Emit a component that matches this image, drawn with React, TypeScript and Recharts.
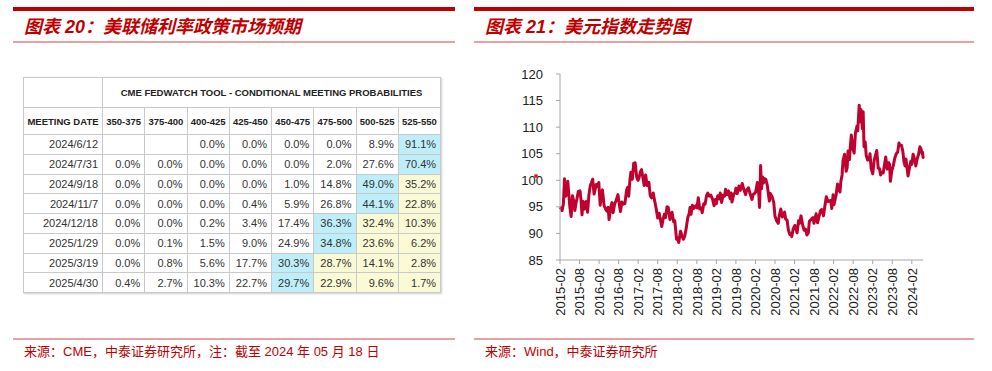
import React from "react";
import { LineChart, Line, XAxis, YAxis } from "recharts";

// CME FedWatch table
const rateBuckets = ["350-375", "375-400", "400-425", "425-450", "450-475", "475-500", "500-525", "525-550"];
const meetingDates = ["2024/6/12", "2024/7/31", "2024/9/18", "2024/11/7", "2024/12/18", "2025/1/29", "2025/3/19", "2025/4/30"];
const probabilities: (number | null)[][] = [
  [null, null, 0.0, 0.0, 0.0, 0.0, 8.9, 91.1],
  [0.0, 0.0, 0.0, 0.0, 0.0, 2.0, 27.6, 70.4],
  [0.0, 0.0, 0.0, 0.0, 1.0, 14.8, 49.0, 35.2],
  [0.0, 0.0, 0.0, 0.4, 5.9, 26.8, 44.1, 22.8],
  [0.0, 0.0, 0.2, 3.4, 17.4, 36.3, 32.4, 10.3],
  [0.0, 0.1, 1.5, 9.0, 24.9, 34.8, 23.6, 6.2],
  [0.0, 0.8, 5.6, 17.7, 30.3, 28.7, 14.1, 2.8],
  [0.4, 2.7, 10.3, 22.7, 29.7, 22.9, 9.6, 1.7],
];
// column of the most likely bucket in each row
const topBucket = [7, 7, 6, 6, 5, 5, 4, 4];

// US dollar index, [MM-DD, value] by year
const y2015: [string, number][] = [
  ["02-02", 94.5], ["02-10", 94.8], ["02-20", 94.3], ["03-02", 95.5], ["03-13", 100.3], ["03-18", 97.3],
  ["03-25", 97.0], ["04-01", 98.5], ["04-13", 99.8], ["04-22", 97.5], ["05-01", 95.1], ["05-14", 93.2],
  ["05-26", 97.1], ["06-05", 96.3], ["06-18", 94.3], ["07-01", 96.0], ["07-08", 96.6], ["07-20", 97.9],
  ["08-05", 98.0], ["08-14", 96.5], ["08-24", 93.5], ["09-03", 96.0], ["09-18", 94.6], ["10-01", 96.0],
  ["10-15", 94.0], ["10-28", 97.3], ["11-10", 99.0], ["11-20", 99.5], ["12-02", 100.2], ["12-15", 97.4],
  ["12-22", 98.0],
];
const y2016: [string, number][] = [
  ["01-05", 99.2], ["01-20", 98.8], ["01-29", 99.6], ["02-11", 95.3], ["02-25", 97.5], ["03-02", 98.2],
  ["03-17", 95.3], ["03-31", 94.6], ["04-12", 94.2], ["04-25", 94.9], ["05-03", 92.6], ["05-16", 94.6],
  ["05-30", 95.8], ["06-10", 93.9], ["06-24", 95.5], ["07-08", 96.2], ["07-25", 97.3], ["08-05", 95.8],
  ["08-18", 94.1], ["09-01", 95.9], ["09-15", 95.5], ["09-29", 95.6], ["10-14", 98.1], ["10-25", 98.7],
  ["11-04", 97.0], ["11-15", 100.0], ["11-24", 101.5], ["12-07", 100.2], ["12-20", 103.2], ["12-28", 103.0],
];
const y2017: [string, number][] = [
  ["01-03", 103.3], ["01-18", 100.5], ["01-30", 100.0], ["02-08", 100.4], ["02-22", 101.6], ["03-02", 102.0],
  ["03-15", 100.5], ["03-27", 99.0], ["04-10", 101.0], ["04-24", 99.0], ["05-10", 99.6], ["05-22", 97.1],
  ["06-05", 96.7], ["06-20", 97.6], ["07-03", 96.1], ["07-17", 94.7], ["07-31", 92.9], ["08-15", 93.8],
  ["08-29", 92.3], ["09-08", 91.3], ["09-20", 92.6], ["10-02", 93.6], ["10-13", 93.0], ["10-27", 95.0],
  ["11-08", 94.9], ["11-24", 92.6], ["12-06", 93.6], ["12-13", 94.0], ["12-28", 92.2],
];
const y2018: [string, number][] = [
  ["01-08", 92.4], ["01-25", 88.9], ["02-01", 89.2], ["02-15", 88.3], ["03-01", 90.4], ["03-14", 89.6],
  ["03-27", 88.9], ["04-10", 89.5], ["04-24", 91.0], ["05-08", 93.0], ["05-22", 93.8], ["05-29", 94.9],
  ["06-08", 93.6], ["06-20", 95.3], ["07-03", 94.7], ["07-19", 95.2], ["08-02", 94.8], ["08-15", 96.7],
  ["08-28", 94.6], ["09-12", 94.8], ["09-21", 93.9], ["10-05", 95.6], ["10-17", 95.5], ["10-31", 97.1],
  ["11-12", 97.6], ["11-26", 97.0], ["12-10", 97.2], ["12-27", 96.4],
];
const y2019: [string, number][] = [
  ["01-10", 95.2], ["01-22", 96.4], ["02-01", 95.6], ["02-14", 97.1], ["03-01", 96.5], ["03-07", 97.6],
  ["03-20", 95.8], ["04-02", 97.2], ["04-17", 97.0], ["04-26", 98.3], ["05-10", 97.3], ["05-23", 98.0],
  ["06-07", 96.6], ["06-18", 97.6], ["06-25", 95.9], ["07-10", 97.3], ["07-25", 97.7], ["08-01", 98.5],
  ["08-13", 97.5], ["08-30", 98.9], ["09-12", 98.1], ["09-30", 99.4], ["10-14", 98.3], ["10-30", 97.3],
  ["11-12", 98.2], ["11-27", 98.6], ["12-10", 97.6], ["12-30", 96.4],
];
const y2020: [string, number][] = [
  ["01-08", 97.3], ["01-22", 97.5], ["02-03", 97.8], ["02-19", 99.6], ["03-02", 97.4], ["03-09", 94.9],
  ["03-19", 102.8], ["03-27", 98.4], ["04-06", 100.6], ["04-15", 99.5], ["04-24", 100.3], ["05-06", 100.2],
  ["05-20", 99.1], ["06-09", 96.1], ["06-19", 97.5], ["07-06", 96.8], ["07-20", 95.8], ["07-31", 93.3],
  ["08-18", 92.3], ["09-01", 91.9], ["09-10", 93.3], ["09-25", 94.6], ["10-09", 93.1], ["10-30", 94.0],
  ["11-09", 92.7], ["11-23", 92.5], ["12-04", 90.7], ["12-17", 89.8], ["12-31", 89.9],
];
const y2021: [string, number][] = [
  ["01-06", 89.4], ["01-18", 90.8], ["02-04", 91.5], ["02-25", 90.1], ["03-08", 92.4], ["03-18", 91.9],
  ["03-31", 93.3], ["04-15", 91.7], ["04-29", 90.6], ["05-12", 90.8], ["05-25", 89.7], ["06-08", 90.1],
  ["06-18", 92.3], ["07-07", 92.7], ["07-21", 93.0], ["07-30", 91.9], ["08-12", 93.0], ["08-20", 93.7],
  ["09-03", 92.0], ["09-17", 93.2], ["09-30", 94.3], ["10-12", 94.5], ["10-28", 93.3], ["11-11", 95.2],
  ["11-24", 96.9], ["12-08", 96.0], ["12-22", 96.1],
];
const y2022: [string, number][] = [
  ["01-05", 96.2], ["01-14", 94.7], ["01-27", 97.3], ["02-04", 95.4], ["02-14", 96.3], ["02-24", 97.2],
  ["03-07", 99.3], ["03-16", 98.3], ["03-30", 97.8], ["04-08", 99.8], ["04-19", 101.0], ["04-28", 103.7],
  ["05-12", 104.9], ["05-27", 101.7], ["06-06", 102.4], ["06-14", 105.5], ["06-27", 103.9], ["07-06", 106.6],
  ["07-14", 108.5], ["07-29", 105.9], ["08-10", 105.1], ["08-22", 108.9], ["09-06", 110.2], ["09-13", 109.3],
  ["09-27", 114.1], ["10-05", 111.0], ["10-13", 113.3], ["10-26", 109.7], ["11-03", 112.9], ["11-11", 106.3],
  ["11-22", 107.2], ["12-01", 104.7], ["12-14", 103.8], ["12-29", 103.9],
];
const y2023: [string, number][] = [
  ["01-06", 105.0], ["01-17", 102.2], ["02-01", 101.2], ["02-15", 103.8], ["03-08", 105.6], ["03-22", 102.3],
  ["04-03", 102.2], ["04-14", 101.0], ["04-26", 101.5], ["05-08", 101.4], ["05-31", 104.4], ["06-15", 102.1],
  ["06-29", 103.3], ["07-06", 103.0], ["07-14", 99.8], ["07-27", 101.8], ["08-11", 102.8], ["08-25", 104.2],
  ["09-08", 105.0], ["09-21", 105.3], ["10-03", 107.0], ["10-12", 106.6], ["10-26", 106.6], ["11-08", 105.5],
  ["11-20", 103.4], ["11-29", 102.7], ["12-07", 104.0], ["12-27", 100.8],
];
const y2024: [string, number][] = [
  ["01-10", 102.4], ["01-23", 103.6], ["02-01", 103.0], ["02-13", 104.9], ["02-28", 103.9], ["03-08", 102.7],
  ["03-19", 103.9], ["04-02", 104.8], ["04-16", 106.3], ["04-26", 105.9], ["05-06", 105.0], ["05-10", 105.3],
  ["05-15", 104.3], ["05-17", 104.5],
];

const years: [number, [string, number][]][] = [
  [2015, y2015], [2016, y2016], [2017, y2017], [2018, y2018], [2019, y2019],
  [2020, y2020], [2021, y2021], [2022, y2022], [2023, y2023], [2024, y2024],
];

// months since 2015-02-01
const dxyData = years.flatMap(([yr, rows]) =>
  rows.map(([md, v]) => {
    const [mo, d] = md.split("-").map(Number);
    return { m: (yr - 2015) * 12 + (mo - 2) + (d - 1) / 30.5, v };
  })
);

const xTicks = [0, 6, 12, 18, 24, 30, 36, 42, 48, 54, 60, 66, 72, 78, 84, 90, 96, 102, 108];
const yTicks = [85, 90, 95, 100, 105, 110, 115, 120];

const RED = "#c00000";
const LINE_RED = "#c0002f";
const PALE_RED = "#e8a0a0";

const fmtMonth = (m: number) => `${2015 + Math.floor(m / 12)}-${m % 12 === 0 ? "02" : "08"}`;

const XTick = (props: any) => {
  const { x, y, payload } = props;
  return (
    <g transform={`translate(${x},${y})`}>
      <text transform="rotate(-90)" textAnchor="end" dy="0.36em" fontSize={13} fill="#222"
        fontFamily="Arial, 'Liberation Sans', sans-serif">
        {fmtMonth(payload.value)}
      </text>
    </g>
  );
};

const Panel = ({ left, width, title, source }: { left: number; width: number; title: string; source: string }) => (
  <>
    <div style={{ position: "absolute", left, top: 7, width, height: 4, background: RED }} />
    <div style={{
      position: "absolute", left: left + 11, top: 14, height: 26, lineHeight: "26px",
      fontSize: 18, fontWeight: 700, fontStyle: "italic", color: RED,
      fontFamily: "Arial, 'Noto Sans CJK SC', sans-serif", whiteSpace: "nowrap",
    }}>{title}</div>
    <div style={{ position: "absolute", left, top: 41, width, height: 2, background: PALE_RED }} />
    <div style={{ position: "absolute", left, top: 338, width, height: 2, background: PALE_RED }} />
    <div style={{
      position: "absolute", left: left + 11, top: 343, height: 18, lineHeight: "18px",
      fontSize: 13, color: RED, whiteSpace: "nowrap",
      fontFamily: "'Liberation Sans Narrow', Arial, 'Noto Sans CJK SC', sans-serif",
    }}>{source}</div>
  </>
);

const cellBorder = "1px solid #c9c9c9";

const FedTable = () => (
  <table style={{
    position: "absolute", left: 23, top: 77, width: 417, borderCollapse: "collapse", tableLayout: "fixed",
    fontFamily: "Arial, 'Liberation Sans', sans-serif", color: "#333", border: "1px solid #a8a8a8",
    boxShadow: "1px 1px 2px rgba(0,0,0,0.2)",
  }}>
    <colgroup>
      <col style={{ width: 79 }} />
      {rateBuckets.map((b) => <col key={b} style={{ width: 42.25 }} />)}
    </colgroup>
    <tbody>
      <tr style={{ height: 30 }}>
        <td style={{ border: cellBorder }} />
        <td colSpan={8} style={{ border: cellBorder, textAlign: "center", fontWeight: 700, fontSize: 9.5, color: "#222" }}>
          CME FEDWATCH TOOL - CONDITIONAL MEETING PROBABILITIES
        </td>
      </tr>
      <tr style={{ height: 27 }}>
        <td style={{ border: cellBorder, textAlign: "center", fontWeight: 700, fontSize: 9.5, color: "#222", whiteSpace: "nowrap", padding: 0 }}>
          MEETING DATE
        </td>
        {rateBuckets.map((b) => (
          <td key={b} style={{ border: cellBorder, textAlign: "center", fontWeight: 700, fontSize: 9.5, color: "#222", padding: 0 }}>
            {b}
          </td>
        ))}
      </tr>
      {meetingDates.map((d, i) => (
        <tr key={d} style={{ height: 19.75 }}>
          <td style={{ border: cellBorder, textAlign: "right", fontSize: 11, padding: "0 4px" }}>{d}</td>
          {probabilities[i].map((p, j) => (
            <td key={j} style={{
              border: cellBorder, textAlign: "right", fontSize: 11, padding: "0 4px",
              background: j === topBucket[i] ? "#bdeefa" : j > topBucket[i] ? "#fbfad6" : "#fff",
            }}>
              {p === null ? "" : `${p.toFixed(1)}%`}
            </td>
          ))}
        </tr>
      ))}
    </tbody>
  </table>
);

export default function App() {
  return (
    <div style={{ position: "absolute", left: 0, top: 0, width: 992, height: 371, background: "#fff", overflow: "hidden" }}>
      <Panel left={13} width={442} title="图表 20：美联储利率政策市场预期" source="来源：CME，中泰证券研究所，注：截至 2024 年 05 月 18 日" />
      <Panel left={474} width={500} title="图表 21：美元指数走势图" source="来源：Wind，中泰证券研究所" />
      <FedTable />
      <div style={{ position: "absolute", left: 480, top: 60 }}>
        <LineChart width={460} height={280} data={dxyData} margin={{ top: 14, right: 16.7, left: 20, bottom: 0 }}>
          <XAxis
            dataKey="m"
            type="number"
            domain={[0, "dataMax"]}
            ticks={xTicks}
            interval={0}
            height={80}
            tickSize={4}
            tickMargin={4}
            stroke="#a6a6a6"
            tick={<XTick />}
          />
          <YAxis
            domain={[85, 120]}
            ticks={yTicks}
            interval={0}
            width={60}
            tickSize={4}
            tickMargin={13}
            stroke="#a6a6a6"
            tick={{ fontSize: 13, fill: "#222", fontFamily: "Arial, 'Liberation Sans', sans-serif" }}
          />
          <Line
            type="linear"
            dataKey="v"
            stroke={LINE_RED}
            strokeWidth={3}
            strokeLinejoin="round"
            dot={false}
            isAnimationActive={false}
          />
        </LineChart>
      </div>
      <div style={{ position: "absolute", left: 534, top: 174, width: 4, height: 4, borderRadius: "50%", background: "#e8231b" }} />
    </div>
  );
}
